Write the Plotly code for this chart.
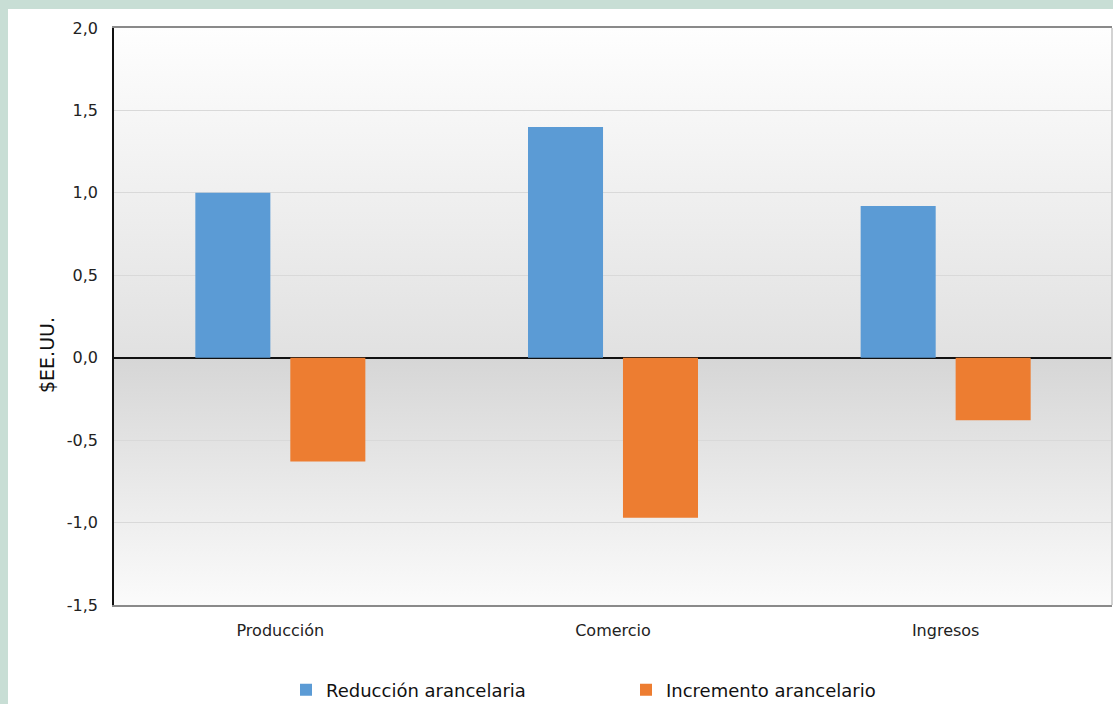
import base64
import plotly.graph_objects as go

categories = ["Producción", "Comercio", "Ingresos"]
reduccion = [1.00, 1.40, 0.92]
incremento = [-0.63, -0.97, -0.38]
y_tickvals = [-1.5, -1.0, -0.5, 0.0, 0.5, 1.0, 1.5, 2.0]
y_ticktext = ["-1,5", "-1,0", "-0,5", "0,0", "0,5", "1,0", "1,5", "2,0"]

W, H = 1113, 704
ML, MR, MT, MB = 114, 1, 28, 99
PW, PH = W - ML - MR, H - MT - MB
Y0, Y1 = -1.5, 2.0
zero_frac = (Y1 - 0) / (Y1 - Y0)

def px_x(p):
    return (p - ML) / PW

def px_y(p):
    return (H - MB - p) / PH

# vertical background gradient of the plotting area (light -> grey at zero -> light)
svg = f"""<svg xmlns='http://www.w3.org/2000/svg' width='100' height='100' viewBox='0 0 100 100' preserveAspectRatio='none'>
<defs><linearGradient id='g' x1='0' y1='0' x2='0' y2='1'>
<stop offset='0' stop-color='#fefefe'/>
<stop offset='{zero_frac:.4f}' stop-color='#e1e1e1'/>
<stop offset='{zero_frac:.4f}' stop-color='#d6d6d6'/>
<stop offset='1' stop-color='#fbfbfb'/>
</linearGradient></defs>
<rect x='0' y='0' width='100' height='100' fill='url(#g)'/>
</svg>"""
svg_uri = "data:image/svg+xml;base64," + base64.b64encode(svg.encode()).decode()

font = "DejaVu Sans, Verdana, sans-serif"
blue = "#5b9bd5"
orange = "#ed7d31"

fig = go.Figure()
fig.add_trace(go.Bar(name="Reducción arancelaria", x=categories, y=reduccion,
                     marker=dict(color=blue, line=dict(width=0))))
fig.add_trace(go.Bar(name="Incremento arancelario", x=categories, y=incremento,
                     marker=dict(color=orange, line=dict(width=0))))

fig.update_layout(
    width=W, height=H,
    margin=dict(l=ML, r=MR, t=MT, b=MB, pad=0, autoexpand=False),
    paper_bgcolor="white",
    plot_bgcolor="rgba(0,0,0,0)",
    barmode="group",
    bargap=0.429,
    bargroupgap=0.21,
    font=dict(family=font, color="#222222"),
    showlegend=True,
    legend=dict(orientation="h", x=0.5 + 13 / PW, xanchor="center",
                yref="container", y=(H - 690) / H, yanchor="middle",
                font=dict(size=18, color="#111111"), itemwidth=30, entrywidth=295,
                traceorder="normal", bgcolor="rgba(0,0,0,0)"),
    images=[dict(source=svg_uri, xref="paper", yref="paper", x=0, y=1,
                 sizex=1, sizey=1, xanchor="left", yanchor="top",
                 sizing="stretch", layer="below")],
    shapes=[
        # light green frame strips
        dict(type="rect", xref="paper", yref="paper", x0=px_x(0), x1=px_x(W + 2),
             y0=px_y(9), y1=px_y(-2), fillcolor="#c8ded5", line=dict(width=0), layer="below"),
        dict(type="rect", xref="paper", yref="paper", x0=px_x(-2), x1=px_x(8),
             y0=px_y(H + 10), y1=px_y(-2), fillcolor="#c8ded5", line=dict(width=0), layer="below"),
        # right border of the plotting area
        dict(type="line", xref="paper", yref="paper", x0=1, x1=1, y0=0, y1=1,
             line=dict(color="#c4c4c4", width=1.5)),
    ],
    annotations=[dict(text="$EE.UU.", xref="paper", yref="paper", x=px_x(47), y=px_y(355),
                      textangle=-90, showarrow=False, font=dict(size=19, color="#111111"),
                      xanchor="center", yanchor="middle")],
)

fig.update_xaxes(
    showgrid=False, showline=True, linecolor="#8a8a8a", linewidth=1.5, mirror=True,
    ticks="outside", ticklen=10, tickcolor="rgba(0,0,0,0)",
    tickfont=dict(size=16, color="#222222"), zeroline=False,
)
fig.update_yaxes(
    range=[Y0, Y1], tickvals=y_tickvals, ticktext=y_ticktext,
    showgrid=True, gridcolor="#d9d9d9", gridwidth=1,
    zeroline=True, zerolinecolor="#111111", zerolinewidth=1.5,
    showline=True, linecolor="#111111", linewidth=1.5,
    ticks="outside", ticklen=11, tickcolor="rgba(0,0,0,0)",
    tickfont=dict(size=16, color="#222222"),
)

fig.write_html("out.html")
